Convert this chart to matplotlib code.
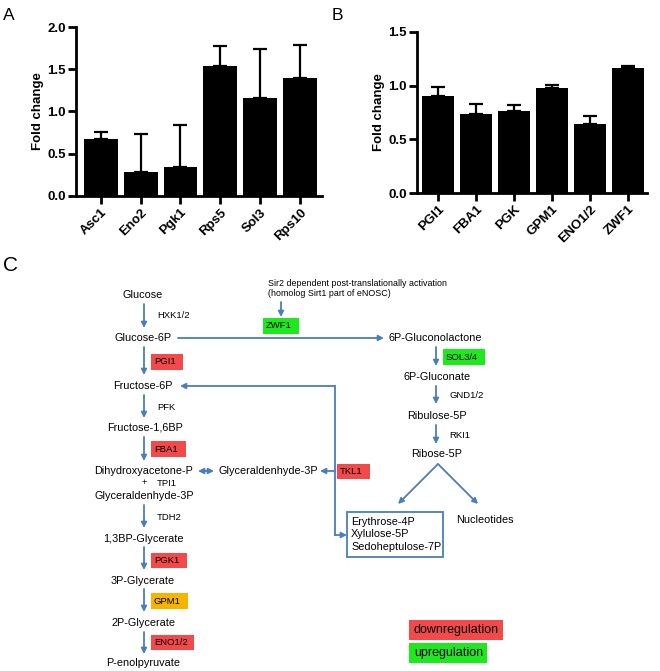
import matplotlib.pyplot as plt
import numpy as np

plt.rcParams['font.family'] = ['Liberation Sans', 'DejaVu Sans']

# Panel A data (qPCR fold change)
genesA = ['Asc1', 'Eno2', 'Pgk1', 'Rps5', 'Sol3', 'Rps10']
meanA = [0.67, 0.28, 0.34, 1.54, 1.16, 1.40]
errA = [0.09, 0.45, 0.50, 0.24, 0.58, 0.39]

# Panel B data
genesB = ['PGI1', 'FBA1', 'PGK', 'GPM1', 'ENO1/2', 'ZWF1']
meanB = [0.90, 0.74, 0.76, 0.98, 0.64, 1.16]
errB = [0.09, 0.09, 0.06, 0.03, 0.08, 0.02]

W, H = 660, 671
fig = plt.figure(figsize=(6.6, 6.71), dpi=100)


def bar_panel(x0, x1, ytop, ybot, genes, means, errs, ymax, xlim):
    # axes placed from pixel coordinates
    ax = fig.add_axes([x0 / W, 1 - ybot / H, (x1 - x0) / W, (ybot - ytop) / H])
    x = np.arange(len(genes))
    ax.bar(x, means, width=0.85, color='black', zorder=2)
    ax.errorbar(x, means, yerr=[np.zeros(len(errs)), errs], fmt='none',
                ecolor='black', elinewidth=1.6, capsize=5, capthick=1.6, zorder=1)
    ax.set_xlim(*xlim)
    ax.set_ylim(0, ymax)
    ax.set_yticks(np.arange(0, ymax + 0.01, 0.5))
    ax.set_yticklabels(['%.1f' % v for v in np.arange(0, ymax + 0.01, 0.5)],
                       fontweight='bold', fontsize=9.5)
    ax.set_xticks(x)
    ax.set_xticklabels(genes, rotation=45, ha='right', rotation_mode='anchor',
                       fontweight='bold', fontsize=9.5)
    for s in ['top', 'right']:
        ax.spines[s].set_visible(False)
    for s in ['left', 'bottom']:
        ax.spines[s].set_linewidth(2)
    ax.tick_params(width=2, length=5.5, pad=2)
    ax.set_ylabel('Fold change', fontweight='bold', fontsize=9.5, labelpad=2)
    return ax


bar_panel(76, 322, 27, 196, genesA, meanA, errA, 2.0, (-0.62, 5.55))
bar_panel(417, 647, 32, 193, genesB, meanB, errB, 1.5, (-0.55, 5.5))

# overlay in pixel coordinates for the pathway scheme and panel letters
ov = fig.add_axes([0, 0, 1, 1])
ov.set_xlim(0, W)
ov.set_ylim(H, 0)
ov.axis('off')

ov.text(3, 20, 'A', fontsize=12.5, va='baseline')
ov.text(332, 20, 'B', fontsize=12.5, va='baseline')
ov.text(3, 271, 'C', fontsize=15, va='baseline')

blue = '#4a7ebb'
red = '#f24a4a'
green = '#1ee81e'
orange = '#f5b400'
fs = 7.8
fs2 = 6.8


def arrow(x1, y1, x2, y2):
    ov.annotate('', xy=(x2, y2), xytext=(x1, y1),
                arrowprops=dict(arrowstyle='-|>', color=blue, lw=1.3,
                                mutation_scale=8, shrinkA=0, shrinkB=0))


def box(x0, y0, x1, y1, label, color, size=fs2, pad=3):
    ov.add_patch(plt.Rectangle((x0, y0), x1 - x0, y1 - y0, color=color, lw=0))
    ov.text(x0 + pad, (y0 + y1) / 2, label, fontsize=size, va='center', ha='left')


def label(x, y, s, size=fs, ha='center'):
    ov.text(x, y, s, fontsize=size, ha=ha, va='center')


# glycolysis column
label(143, 295, 'Glucose')
arrow(144, 304, 144, 328)
label(157, 316, 'HXK1/2', fs2, 'left')
label(143, 338, 'Glucose-6P')
arrow(144, 347, 144, 375)
box(151, 354, 183, 370, 'PGI1', red)
label(143, 386, 'Fructose-6P')
arrow(144, 395, 144, 418)
label(157, 407, 'PFK', fs2, 'left')
label(145, 428, 'Fructose-1,6BP')
arrow(144, 437, 144, 461)
box(151, 441, 186, 457, 'FBA1', red)
label(144, 471, 'Dihydroxyacetone-P')
arrow(206, 471, 198, 471)
arrow(206, 471, 214, 471)
label(268, 471, 'Glyceraldenhyde-3P')
label(144, 483, '+', fs2)
label(157, 483, 'TPI1', fs2, 'left')
label(144, 496, 'Glyceraldenhyde-3P')
arrow(144, 505, 144, 528)
label(157, 517, 'TDH2', fs2, 'left')
label(143, 539, '1,3BP-Glycerate')
arrow(144, 547, 144, 570)
box(151, 553, 187, 568, 'PGK1', red)
label(143, 581, '3P-Glycerate')
arrow(144, 589, 144, 612)
box(151, 593, 188, 609, 'GPM1', orange)
label(143, 623, '2P-Glycerate')
arrow(144, 632, 144, 654)
box(151, 635, 194, 650, 'ENO1/2', red)
label(143, 663, 'P-enolpyruvate')

# oxidative pentose phosphate branch
ov.text(268, 283, 'Sir2 dependent post-translationally activation', fontsize=6.4, va='center')
ov.text(268, 294, '(homolog Sirt1 part of eNOSC)', fontsize=6.4, va='center')
arrow(281, 302, 281, 317)
box(263, 318, 299, 334, 'ZWF1', green)
arrow(178, 338, 384, 338)
label(435, 338, '6P-Gluconolactone')
arrow(436, 347, 436, 366)
box(443, 349, 485, 365, 'SOL3/4', green)
label(437, 377, '6P-Gluconate')
arrow(436, 386, 436, 404)
label(449, 396, 'GND1/2', fs2, 'left')
label(437, 416, 'Ribulose-5P')
arrow(436, 425, 436, 444)
label(449, 435, 'RKI1', fs2, 'left')
label(437, 454, 'Ribose-5P')
arrow(438, 464, 398, 504)
arrow(438, 464, 478, 504)
label(485, 520, 'Nucleotides')

# transketolase loop
ov.plot([335, 335], [386, 535], color=blue, lw=1.3)
arrow(335, 386, 180, 386)
arrow(335, 471, 320, 471)
arrow(335, 535, 347, 535)
box(337, 464, 370, 479, 'TKL1', red)
ov.add_patch(plt.Rectangle((347, 512), 96, 45, fill=False, ec=blue, lw=1.3))
ov.text(351, 522, 'Erythrose-4P', fontsize=fs, va='center')
ov.text(351, 534, 'Xylulose-5P', fontsize=fs, va='center')
ov.text(351, 547, 'Sedoheptulose-7P', fontsize=fs, va='center')

# legend
box(409, 620, 503, 640, 'downregulation', red, 9, 5)
box(409, 643, 487, 663, 'upregulation', green, 9, 5)

fig.savefig('out.png', dpi=100)
